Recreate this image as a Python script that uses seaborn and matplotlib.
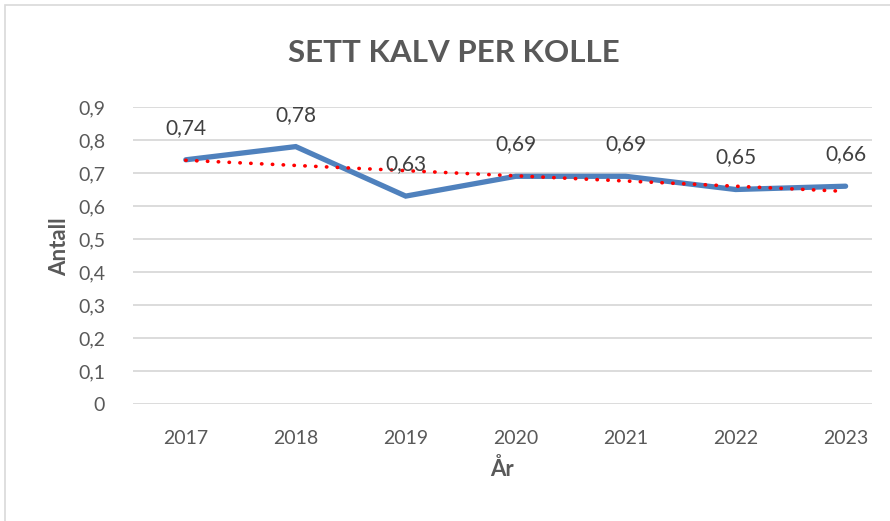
import numpy as np
import pandas as pd
import matplotlib.pyplot as plt
import seaborn as sns
from matplotlib.patches import Rectangle

# Data
years = ['2017', '2018', '2019', '2020', '2021', '2022', '2023']
sett_kalv = [0.74, 0.78, 0.63, 0.69, 0.69, 0.65, 0.66]
labels = ['0,74', '0,78', '0,63', '0,69', '0,69', '0,65', '0,66']
yticks = [0, 0.1, 0.2, 0.3, 0.4, 0.5, 0.6, 0.7, 0.8, 0.9]
ytick_labels = ['0', '0,1', '0,2', '0,3', '0,4', '0,5', '0,6', '0,7', '0,8', '0,9']

df = pd.DataFrame({'year': years, 'value': sett_kalv})
df['pos'] = np.arange(len(df))

sns.set_style('white')
plt.rcParams['font.family'] = ['Lato', 'DejaVu Sans']

fig = plt.figure(figsize=(8.9, 5.21), dpi=100)
ax = fig.add_axes([133 / 890, 1 - 404 / 521, (872 - 133) / 890, (404 - 107) / 521])

# chart border like the Excel frame
fig.patches.append(Rectangle((5 / 890, -0.01), 1.0, 1 - 5 / 521 + 0.01, transform=fig.transFigure,
                             fill=False, edgecolor='#d9d9d9', linewidth=1.2))

# gridlines
for t in yticks:
    ax.axhline(t, color='#d9d9d9', linewidth=1.3, zorder=0)

sns.lineplot(data=df, x='pos', y='value', ax=ax, color='#4f81bd', linewidth=3.8,
             solid_capstyle='round', solid_joinstyle='miter', zorder=2)

# linear trendline
coef = np.polyfit(df['pos'], df['value'], 1)
ax.plot(df['pos'], np.polyval(coef, df['pos']), color='#ff0000', linewidth=2.6,
        linestyle=(0, (0.1, 2.9)), dash_capstyle='round', zorder=3)

for x, y, lab in zip(df['pos'], df['value'], labels):
    ax.annotate(lab, (x, y), xytext=(0, 23), textcoords='offset points',
                ha='center', va='center', fontsize=15, color='#404040', zorder=4)

ax.set_xlim(-0.48, 6.24)
ax.set_ylim(0, 0.9)
ax.set_xticks(df['pos'])
ax.set_xticklabels(years)
ax.set_yticks(yticks)
ax.set_yticklabels(ytick_labels)
ax.tick_params(axis='both', length=0, labelsize=14, labelcolor='#595959')
ax.tick_params(axis='y', pad=20)
ax.tick_params(axis='x', pad=19)
for s in ax.spines.values():
    s.set_visible(False)

ax.set_xlabel('År', fontsize=16, fontweight='bold', color='#595959', labelpad=8)
ax.set_ylabel('Antall', fontsize=16, fontweight='bold', color='#595959', labelpad=8)
ax.yaxis.set_label_coords(-0.085, 0.53)

fig.text(454 / 890, 1 - 53 / 521, 'SETT KALV PER KOLLE', ha='center', va='center',
         fontsize=22.5, fontweight='bold', color='#595959')

fig.savefig('out.png', dpi=100)
